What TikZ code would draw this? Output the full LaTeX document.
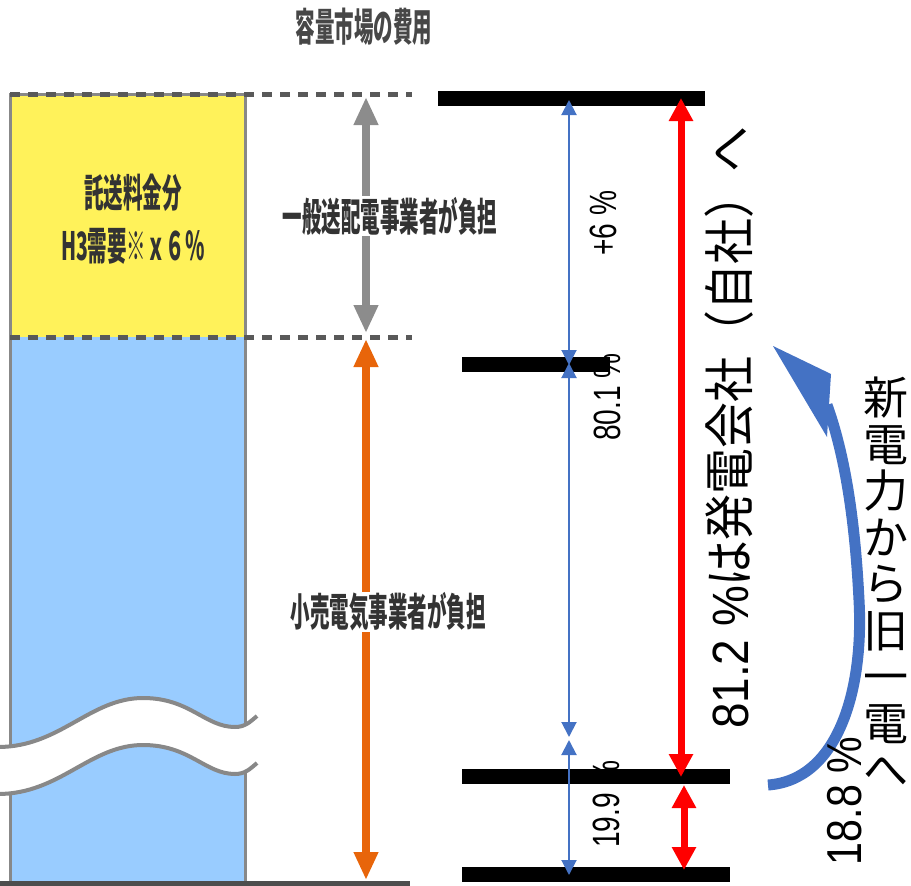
\documentclass[tikz,border=0pt]{standalone}
\usepackage{fontspec}
\usepackage{graphicx}
\usetikzlibrary{arrows.meta}
\newfontfamily\jp{Noto Sans CJK JP}
\newfontfamily\arial{Liberation Sans}
\newcommand{\condtext}[1]{\scalebox{0.5}[1]{#1}}
\definecolor{ylw}{HTML}{FFF25A}
\definecolor{lblue}{HTML}{99CCFF}
\definecolor{bordergray}{HTML}{888888}
\definecolor{dashgray}{HTML}{595959}
\definecolor{basegray}{HTML}{4D4D4D}
\definecolor{arrgray}{HTML}{8C8C8C}
\definecolor{orng}{HTML}{E8650A}
\definecolor{ablue}{HTML}{4472C4}
\definecolor{txtgray}{HTML}{333333}
\tikzset{
  leftlabel/.style={font=\jp\bfseries\fontsize{39}{39}\selectfont, text=txtgray, inner sep=1pt},
  fatarrow/.style={line width=8pt, arrows={Triangle[width=23pt,length=28pt]-Triangle[width=23pt,length=28pt]}},
  redarrow/.style={line width=7pt, red, arrows={Triangle[width=23pt,length=23pt]-Triangle[width=23pt,length=23pt]}},
  thinarrow/.style={line width=2pt, ablue, arrows={Triangle[width=15pt,length=15pt]-Triangle[width=15pt,length=15pt]}},
  blackbar/.style={line width=15pt, black},
  dashline/.style={line width=5pt, dashgray, dash pattern=on 10pt off 8pt},
  pctlabel/.style={rotate=90, inner sep=0pt},
  wavebreak/.style={draw=bordergray, line width=4pt}
}
\begin{document}
\begin{tikzpicture}[x=1pt, y=-1pt]
\useasboundingbox (0,0) rectangle (911,886);

% ---------- left bar ----------
\fill[ylw] (10,94) rectangle (245,337);
\fill[lblue] (10,337) rectangle (245,883);
\draw[bordergray, line width=3pt] (10,94) rectangle (245,883);

% wave break
\fill[white] (-2,747) .. controls (60,747) and (90,698) .. (143,698)
  .. controls (190,698) and (205,727) .. (235,727)
  .. controls (245,727) and (250,722) .. (257,716)
  -- (257,763)
  .. controls (250,769) and (245,774) .. (235,774)
  .. controls (205,774) and (190,745) .. (143,745)
  .. controls (90,745) and (60,794) .. (-2,794) -- cycle;
\draw[wavebreak] (-2,747) .. controls (60,747) and (90,698) .. (143,698)
  .. controls (190,698) and (205,727) .. (235,727)
  .. controls (245,727) and (250,722) .. (257,716);
\draw[wavebreak] (-2,794) .. controls (60,794) and (90,745) .. (143,745)
  .. controls (190,745) and (205,774) .. (235,774)
  .. controls (245,774) and (250,769) .. (257,763);

% dashed level lines and base line
\coordinate (dtl) at (10,94);   \coordinate (dtr) at (412,94);
\coordinate (dml) at (10,337);  \coordinate (dmr) at (412,337);
\coordinate (bl) at (0,883);    \coordinate (br) at (410,883);
\draw[dashline] (dtl) -- (dtr);
\draw[dashline] (dml) -- (dmr);
\draw[basegray, line width=5pt] (bl) -- (br);

% gray and orange arrows
\coordinate (ga) at (366,97);  \coordinate (gb) at (366,333);
\coordinate (oa) at (366,339); \coordinate (ob) at (366,880);
\draw[fatarrow, arrgray] (ga) -- (gb);
\draw[fatarrow, orng] (oa) -- (ob);

\node[leftlabel, fill=white] (lgen) at (390,216) {\condtext{一般送配電事業者が負担}};
\node[leftlabel, fill=white] (lret) at (388,612) {\condtext{小売電気事業者が負担}};
\node[leftlabel, text=black!72] (title) at (364,27) {\condtext{容量市場の費用}};
\node[leftlabel] (tak1) at (133,193) {\condtext{託送料金分}};
\node[leftlabel] (tak2) at (133,246) {\condtext{H3需要※ｘ６％}};

% ---------- right side ----------
\node[pctlabel] (p6) at (603,223) {\scalebox{0.74}[1]{\arial\fontsize{38}{38}\selectfont +6 \%}};
\node[pctlabel] (p80) at (607,397) {\scalebox{0.74}[1]{\arial\fontsize{38}{38}\selectfont 80.1 \%}};
\node[pctlabel] (p19) at (606,804) {\scalebox{0.74}[1]{\arial\fontsize{38}{38}\selectfont 19.9 \%}};

\coordinate (b1l) at (438,98);  \coordinate (b1r) at (705,98);
\coordinate (b2l) at (462,364); \coordinate (b2r) at (610,364);
\coordinate (b3l) at (462,776); \coordinate (b3r) at (730,776);
\coordinate (b4l) at (462,874); \coordinate (b4r) at (730,874);
\draw[blackbar] (b1l) -- (b1r);
\draw[blackbar] (b2l) -- (b2r);
\draw[blackbar] (b3l) -- (b3r);
\draw[blackbar] (b4l) -- (b4r);

\coordinate (t1) at (569,100); \coordinate (t2) at (569,365);
\coordinate (t3) at (569,363); \coordinate (t4) at (569,737);
\coordinate (t5) at (569,740); \coordinate (t6) at (569,875);
\draw[thinarrow] (t1) -- (t2);
\draw[thinarrow] (t3) -- (t4);
\draw[thinarrow] (t5) -- (t6);

\coordinate (r1) at (681,98);  \coordinate (r2) at (681,777);
\coordinate (r3) at (684,785); \coordinate (r4) at (684,870);
\draw[redarrow] (r1) -- (r2);
\draw[redarrow] (r3) -- (r4);

\node[rotate=90, inner sep=0pt] (main) at (729,428)
  {\scalebox{0.9}[1]{\fontsize{51}{51}\selectfont\arial 81.2 \%\jp は発電会社（自社）へ}};

% curved blue arrow
\coordinate (ctail) at (768,785);
\coordinate (chead) at (827,405);
\draw[ablue, line width=11pt] (ctail) .. controls (838,780) and (864,690) .. (859,600)
  .. controls (855,520) and (845,455) .. (chead);
\fill[ablue] (773,346) -- (831,374) -- (827,437) -- cycle;

\node[align=center, inner sep=0pt, font=\jp\fontsize{45}{46.5}\selectfont] (vt) at (886,582)
  {新\\電\\力\\か\\ら\\旧\\一\\電\\へ};
\node[pctlabel] (p18) at (845,801) {\scalebox{0.84}[1]{\arial\fontsize{49}{49}\selectfont 18.8 \%}};
\end{tikzpicture}
\end{document}
